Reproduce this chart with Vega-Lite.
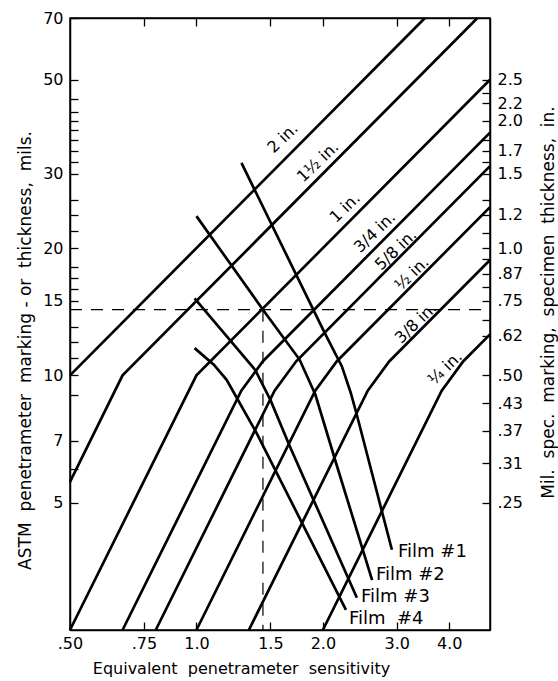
{
  "$schema": "https://vega.github.io/schema/vega-lite/v6.json",
  "width": 420,
  "height": 612,
  "autosize": {"type": "none"},
  "padding": {"left": 70, "top": 18, "right": 68, "bottom": 51},
  "background": "white",
  "config": {
    "font": "DejaVu Sans",
    "view": {"stroke": "black", "strokeWidth": 1.5},
    "axis": {
      "domainColor": "black", "domainWidth": 1.5, "tickColor": "black", "tickWidth": 1.3,
      "labelColor": "black", "titleColor": "black", "grid": false,
      "labelFont": "DejaVu Sans", "titleFont": "DejaVu Sans", "labelFontSize": 16,
      "titleFontSize": 17, "titleFontWeight": "normal", "tickSize": -8,
      "labelFlush": false, "labelOverlap": false
    }
  },
  "datasets": {
    "lines": [
      {"id": "a", "o": 0, "x": 0.5, "y": 10}, {"id": "a", "o": 1, "x": 3.5, "y": 70},
      {"id": "b", "o": 0, "x": 0.5, "y": 5.6}, {"id": "b", "o": 1, "x": 0.667, "y": 10}, {"id": "b", "o": 2, "x": 4.667, "y": 70},
      {"id": "c", "o": 0, "x": 0.5, "y": 2.5}, {"id": "c", "o": 1, "x": 1.0, "y": 10}, {"id": "c", "o": 2, "x": 5, "y": 50},
      {"id": "d", "o": 0, "x": 0.667, "y": 2.5}, {"id": "d", "o": 1, "x": 1.279, "y": 9.2}, {"id": "d", "o": 2, "x": 1.44, "y": 10.8}, {"id": "d", "o": 3, "x": 5, "y": 37.5},
      {"id": "e", "o": 0, "x": 0.8, "y": 2.5}, {"id": "e", "o": 1, "x": 1.535, "y": 9.2}, {"id": "e", "o": 2, "x": 1.728, "y": 10.8}, {"id": "e", "o": 3, "x": 5, "y": 31.25},
      {"id": "f", "o": 0, "x": 1.0, "y": 2.5}, {"id": "f", "o": 1, "x": 1.918, "y": 9.2}, {"id": "f", "o": 2, "x": 2.16, "y": 10.8}, {"id": "f", "o": 3, "x": 5, "y": 25},
      {"id": "g", "o": 0, "x": 1.333, "y": 2.5}, {"id": "g", "o": 1, "x": 2.558, "y": 9.2}, {"id": "g", "o": 2, "x": 2.88, "y": 10.8}, {"id": "g", "o": 3, "x": 5, "y": 18.75},
      {"id": "h", "o": 0, "x": 2.0, "y": 2.5}, {"id": "h", "o": 1, "x": 3.837, "y": 9.2}, {"id": "h", "o": 2, "x": 4.32, "y": 10.8}, {"id": "h", "o": 3, "x": 5, "y": 12.5},
      {"id": "f1", "o": 0, "x": 1.28, "y": 31.8}, {"id": "f1", "o": 1, "x": 2.02, "y": 12.6}, {"id": "f1", "o": 2, "x": 2.22, "y": 10.5}, {"id": "f1", "o": 3, "x": 2.33, "y": 9.1}, {"id": "f1", "o": 4, "x": 2.41, "y": 8.06}, {"id": "f1", "o": 5, "x": 2.92, "y": 3.87},
      {"id": "f2", "o": 0, "x": 1.0, "y": 23.8}, {"id": "f2", "o": 1, "x": 1.44, "y": 14.3}, {"id": "f2", "o": 2, "x": 1.76, "y": 10.9}, {"id": "f2", "o": 3, "x": 1.92, "y": 9.0}, {"id": "f2", "o": 4, "x": 2.14, "y": 6.3}, {"id": "f2", "o": 5, "x": 2.62, "y": 3.28},
      {"id": "f3", "o": 0, "x": 0.99, "y": 15.2}, {"id": "f3", "o": 1, "x": 1.38, "y": 10.3}, {"id": "f3", "o": 2, "x": 1.5, "y": 8.75}, {"id": "f3", "o": 3, "x": 1.67, "y": 6.78}, {"id": "f3", "o": 4, "x": 2.41, "y": 2.98},
      {"id": "f4", "o": 0, "x": 0.99, "y": 11.6}, {"id": "f4", "o": 1, "x": 1.10, "y": 10.6}, {"id": "f4", "o": 2, "x": 1.18, "y": 9.76}, {"id": "f4", "o": 3, "x": 1.39, "y": 7.31}, {"id": "f4", "o": 4, "x": 2.27, "y": 2.79}
    ],
    "tlabels": [
      {"t": "2 in.", "x": 1.607, "y": 36.4},
      {"t": "1½ in.", "x": 1.947, "y": 31.97},
      {"t": "1 in.", "x": 2.258, "y": 24.9},
      {"t": "3/4 in.", "x": 2.66, "y": 21.8},
      {"t": "5/8 in.", "x": 2.986, "y": 19.8},
      {"t": "½ in.", "x": 3.26, "y": 17.4},
      {"t": "3/8 in.", "x": 3.333, "y": 13.3},
      {"t": "¼ in.", "x": 3.91, "y": 10.4}
    ],
    "flabels": [
      {"t": "Film #1", "x": 3.02, "y": 3.82},
      {"t": "Film #2", "x": 2.676, "y": 3.37},
      {"t": "Film #3", "x": 2.465, "y": 2.99},
      {"t": "Film \u00a0#4", "x": 2.308, "y": 2.66}
    ],
    "dash": [
      {"x": 0.5, "x2": 5, "y": 14.3, "y2": 14.3},
      {"x": 1.44, "x2": 1.44, "y": 14.3, "y2": 2.5}
    ]
  },
  "layer": [
    {
      "layer": [
        {
          "data": {"name": "lines"},
          "mark": {"type": "line", "color": "black", "strokeWidth": 2.7},
          "encoding": {
            "x": {
              "field": "x", "type": "quantitative",
              "scale": {"type": "log", "domain": [0.5, 5], "nice": false},
              "axis": {
                "orient": "bottom",
                "values": [0.5, 0.75, 1, 1.5, 2, 3, 4],
                "labelExpr": "datum.value < 1 ? replace(format(datum.value, '.2f'), '0.', '.') : format(datum.value, '.1f')",
                "labelPadding": 13,
                "title": "Equivalent\u00a0 penetrameter\u00a0 sensitivity",
                "titleFontSize": 16,
                "titleX": 171, "titleY": 38, "titleBaseline": "middle", "titleAlign": "center"
              }
            },
            "y": {
              "field": "y", "type": "quantitative",
              "scale": {"type": "log", "domain": [2.5, 70], "nice": false},
              "axis": {
                "orient": "left",
                "values": [5, 6, 7, 9, 10, 11, 12, 13, 15, 16, 17, 18, 20, 22, 24, 26, 30, 32, 34, 36, 38, 40, 42, 45, 50, 70],
                "labelExpr": "indexof([5, 7, 10, 15, 20, 30, 50, 70], datum.value) >= 0 ? format(datum.value, 'd') : ''",
                "labelPadding": 15,
                "title": "ASTM\u00a0 penetrameter\u00a0 marking\u00a0-\u00a0or\u00a0 thickness,\u00a0 mils.",
                "titleX": -45, "titleY": 332, "titleAngle": -90, "titleBaseline": "middle", "titleAlign": "center"
              }
            },
            "detail": {"field": "id"},
            "order": {"field": "o"}
          }
        },
        {
          "data": {"name": "tlabels"},
          "mark": {"type": "text", "angle": -44, "fontSize": 16, "color": "black", "align": "center", "baseline": "middle"},
          "encoding": {
            "x": {"field": "x", "type": "quantitative"},
            "y": {"field": "y", "type": "quantitative"},
            "text": {"field": "t"}
          }
        },
        {
          "data": {"name": "flabels"},
          "mark": {"type": "text", "fontSize": 18, "color": "black", "align": "left", "baseline": "middle"},
          "encoding": {
            "x": {"field": "x", "type": "quantitative"},
            "y": {"field": "y", "type": "quantitative"},
            "text": {"field": "t"}
          }
        }
      ]
    },
    {
      "data": {"name": "dash"},
      "mark": {"type": "rule", "color": "black", "strokeWidth": 1.2, "strokeDash": [12, 9]},
      "encoding": {
        "x": {
          "field": "x", "type": "quantitative",
          "scale": {"type": "log", "domain": [0.5, 5], "nice": false},
          "axis": {"orient": "top", "values": [0.75, 1, 1.5, 2, 3, 4], "labels": false, "title": null}
        },
        "x2": {"field": "x2"},
        "y": {
          "field": "y", "type": "quantitative",
          "scale": {"type": "log", "domain": [2.5, 70], "nice": false},
          "axis": {
            "orient": "right",
            "values": [5, 6.2, 7.4, 8.6, 10, 12.4, 13.5, 15, 16.2, 17.4, 18.8, 20, 21.7, 24, 26, 30, 32, 34, 36, 40, 44, 46.5, 50],
            "labelExpr": "indexof([5, 6.2, 7.4, 8.6, 10, 12.4, 15, 17.4, 20, 24, 30, 34, 40, 44, 50], datum.value) < 0 ? '' : (datum.value < 20 ? replace(format(datum.value / 20, '.2f'), '0.', '.') : format(datum.value / 20, '.1f'))",
            "labelPadding": 15,
            "title": "Mil.\u00a0 spec.\u00a0 marking,\u00a0 specimen\u00a0 thickness,\u00a0 in.",
            "titleX": 58, "titleY": 284, "titleAngle": -90, "titleBaseline": "middle", "titleAlign": "center"
          }
        },
        "y2": {"field": "y2"}
      }
    }
  ],
  "resolve": {"scale": {"x": "independent", "y": "independent"}}
}
